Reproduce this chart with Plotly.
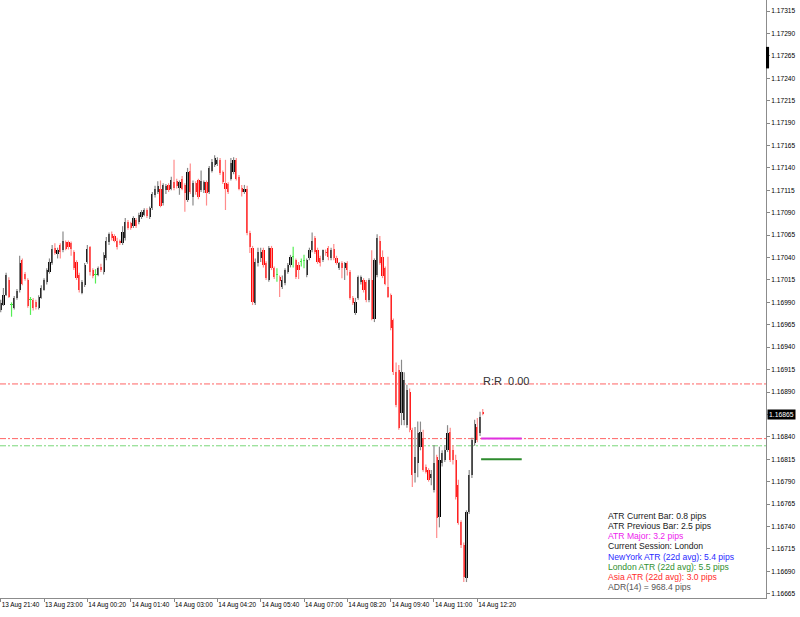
import plotly.graph_objects as go

# ---------------- data (EURUSD M5) ----------------
opens = [
    1.16981, 1.16981, 1.16987, 1.16998, 1.17015, 1.16987, 1.16984, 1.16995, 1.17004, 1.17037,
    1.17022, 1.17015, 1.16993, 1.16993, 1.16990, 1.16984, 1.16995, 1.17004, 1.17013, 1.17024,
    1.17034, 1.17051, 1.17044, 1.17054, 1.17048, 1.17057, 1.17057, 1.17056, 1.17046, 1.17035,
    1.17020, 1.17001, 1.17009, 1.17035, 1.17052, 1.17026, 1.17020, 1.17021, 1.17030, 1.17024,
    1.17039, 1.17057, 1.17066, 1.17064, 1.17059, 1.17058, 1.17056, 1.17062, 1.17080, 1.17078,
    1.17075, 1.17082, 1.17080, 1.17085, 1.17088, 1.17093, 1.17085, 1.17095, 1.17110, 1.17113,
    1.17117, 1.17101, 1.17115, 1.17121, 1.17117, 1.17124, 1.17125, 1.17118, 1.17128, 1.17121,
    1.17104, 1.17137, 1.17107, 1.17123, 1.17126, 1.17115, 1.17115, 1.17124, 1.17113, 1.17137,
    1.17143, 1.17144, 1.17149, 1.17135, 1.17123, 1.17122, 1.17128, 1.17135, 1.17149, 1.17130,
    1.17118, 1.17113, 1.17117, 1.17067, 1.17051, 1.16989, 1.17034, 1.17039, 1.17048, 1.17034,
    1.17015, 1.17051, 1.17028, 1.17020, 1.17018, 1.17007, 1.17012, 1.17024, 1.17032, 1.17041,
    1.17037, 1.17032, 1.17035, 1.17036, 1.17020, 1.17039, 1.17048, 1.17062, 1.17048, 1.17039,
    1.17037, 1.17046, 1.17051, 1.17039, 1.17049, 1.17039, 1.17028, 1.17034, 1.17028, 1.17034,
    1.17024, 1.16995, 1.16978, 1.16995, 1.17013, 1.17015, 1.17013, 1.16993, 1.17015, 1.16972,
    1.17020, 1.17059, 1.17041, 1.17028, 1.17007, 1.16998, 1.16970, 1.16912, 1.16915, 1.16867,
    1.16859, 1.16853, 1.16890, 1.16848, 1.16800, 1.16811, 1.16829, 1.16839, 1.16806, 1.16803,
    1.16794, 1.16781, 1.16817, 1.16751, 1.16811, 1.16814, 1.16825, 1.16845, 1.16825, 1.16814,
    1.16786, 1.16745, 1.16719, 1.16683, 1.16756, 1.16797, 1.16833, 1.16851, 1.16844, 1.16868,
]
highs = [
    1.16987, 1.16993, 1.17006, 1.17023, 1.17018, 1.16990, 1.16997, 1.17005, 1.17042, 1.17039,
    1.17024, 1.17017, 1.16996, 1.16995, 1.16993, 1.16998, 1.17009, 1.17017, 1.17028, 1.17039,
    1.17054, 1.17056, 1.17051, 1.17056, 1.17069, 1.17059, 1.17059, 1.17058, 1.17048, 1.17037,
    1.17023, 1.17015, 1.17034, 1.17054, 1.17053, 1.17028, 1.17027, 1.17030, 1.17033, 1.17046,
    1.17063, 1.17068, 1.17069, 1.17066, 1.17062, 1.17060, 1.17075, 1.17084, 1.17082, 1.17080,
    1.17086, 1.17084, 1.17090, 1.17093, 1.17095, 1.17095, 1.17097, 1.17113, 1.17120, 1.17125,
    1.17126, 1.17123, 1.17122, 1.17123, 1.17130, 1.17149, 1.17128, 1.17126, 1.17131, 1.17123,
    1.17140, 1.17145, 1.17126, 1.17125, 1.17128, 1.17137, 1.17126, 1.17126, 1.17142, 1.17150,
    1.17154, 1.17152, 1.17151, 1.17137, 1.17149, 1.17124, 1.17151, 1.17152, 1.17151, 1.17132,
    1.17121, 1.17121, 1.17120, 1.17070, 1.17053, 1.17039, 1.17051, 1.17051, 1.17051, 1.17036,
    1.17053, 1.17053, 1.17030, 1.17028, 1.17020, 1.17020, 1.17028, 1.17034, 1.17043, 1.17052,
    1.17039, 1.17035, 1.17039, 1.17043, 1.17039, 1.17051, 1.17068, 1.17064, 1.17051, 1.17042,
    1.17049, 1.17049, 1.17053, 1.17051, 1.17055, 1.17042, 1.17035, 1.17036, 1.17035, 1.17036,
    1.17026, 1.16997, 1.16995, 1.17020, 1.17020, 1.17017, 1.17015, 1.17017, 1.17048, 1.17039,
    1.17066, 1.17064, 1.17048, 1.17030, 1.17041, 1.17000, 1.16972, 1.16923, 1.16920, 1.16926,
    1.16912, 1.16898, 1.16894, 1.16850, 1.16851, 1.16857, 1.16857, 1.16848, 1.16809, 1.16805,
    1.16803, 1.16831, 1.16820, 1.16829, 1.16825, 1.16831, 1.16853, 1.16850, 1.16831, 1.16820,
    1.16792, 1.16747, 1.16722, 1.16758, 1.16803, 1.16839, 1.16859, 1.16861, 1.16868, 1.16871,
]
lows = [
    1.16961, 1.16979, 1.16986, 1.16997, 1.16995, 1.16974, 1.16982, 1.16993, 1.17001, 1.17009,
    1.17014, 1.16984, 1.16976, 1.16981, 1.16982, 1.16982, 1.16994, 1.17003, 1.17010, 1.17022,
    1.17032, 1.17043, 1.17039, 1.17039, 1.17046, 1.17048, 1.17049, 1.17042, 1.17026, 1.17015,
    1.17001, 1.16999, 1.17007, 1.17033, 1.17020, 1.17017, 1.17011, 1.17019, 1.17024, 1.17021,
    1.17037, 1.17054, 1.17059, 1.17057, 1.17049, 1.17054, 1.17054, 1.17059, 1.17071, 1.17071,
    1.17073, 1.17073, 1.17077, 1.17083, 1.17086, 1.17084, 1.17083, 1.17093, 1.17107, 1.17111,
    1.17096, 1.17098, 1.17111, 1.17113, 1.17115, 1.17115, 1.17117, 1.17110, 1.17115, 1.17091,
    1.17102, 1.17111, 1.17098, 1.17110, 1.17105, 1.17113, 1.17112, 1.17098, 1.17111, 1.17135,
    1.17141, 1.17142, 1.17132, 1.17122, 1.17093, 1.17111, 1.17126, 1.17133, 1.17126, 1.17115,
    1.17108, 1.17111, 1.17065, 1.17045, 1.16987, 1.16987, 1.17030, 1.17035, 1.17029, 1.17015,
    1.17013, 1.17026, 1.17016, 1.17013, 1.16996, 1.17005, 1.17009, 1.17022, 1.17029, 1.17029,
    1.17016, 1.17016, 1.17030, 1.17028, 1.17018, 1.17037, 1.17046, 1.17044, 1.17033, 1.17030,
    1.17035, 1.17042, 1.17037, 1.17037, 1.17037, 1.17032, 1.17026, 1.17017, 1.17015, 1.17020,
    1.16993, 1.16987, 1.16976, 1.16993, 1.17010, 1.17001, 1.16990, 1.16990, 1.16970, 1.16968,
    1.17018, 1.17032, 1.17017, 1.17009, 1.16995, 1.16959, 1.16909, 1.16873, 1.16848, 1.16853,
    1.16853, 1.16850, 1.16845, 1.16784, 1.16789, 1.16795, 1.16825, 1.16801, 1.16799, 1.16790,
    1.16786, 1.16778, 1.16727, 1.16739, 1.16807, 1.16812, 1.16823, 1.16812, 1.16809, 1.16770,
    1.16742, 1.16716, 1.16678, 1.16678, 1.16754, 1.16794, 1.16830, 1.16834, 1.16841, 1.16864,
]
closes = [
    1.16967, 1.16989, 1.16998, 1.17020, 1.16996, 1.16987, 1.16995, 1.17003, 1.17034, 1.17011,
    1.17016, 1.16986, 1.16993, 1.16984, 1.16985, 1.16996, 1.17006, 1.17015, 1.17026, 1.17035,
    1.17050, 1.17045, 1.17048, 1.17046, 1.17059, 1.17050, 1.17052, 1.17049, 1.17028, 1.17017,
    1.17004, 1.17013, 1.17032, 1.17050, 1.17024, 1.17019, 1.17020, 1.17028, 1.17026, 1.17043,
    1.17059, 1.17066, 1.17062, 1.17058, 1.17052, 1.17056, 1.17068, 1.17080, 1.17073, 1.17073,
    1.17084, 1.17075, 1.17087, 1.17091, 1.17093, 1.17086, 1.17095, 1.17111, 1.17117, 1.17120,
    1.17098, 1.17121, 1.17120, 1.17115, 1.17126, 1.17118, 1.17120, 1.17124, 1.17117, 1.17112,
    1.17135, 1.17113, 1.17123, 1.17113, 1.17107, 1.17125, 1.17124, 1.17112, 1.17140, 1.17147,
    1.17151, 1.17149, 1.17134, 1.17124, 1.17117, 1.17113, 1.17145, 1.17149, 1.17128, 1.17117,
    1.17113, 1.17117, 1.17067, 1.17052, 1.16990, 1.17035, 1.17046, 1.17046, 1.17032, 1.17017,
    1.17051, 1.17028, 1.17018, 1.17020, 1.17014, 1.17015, 1.17026, 1.17032, 1.17041, 1.17041,
    1.17018, 1.17026, 1.17035, 1.17036, 1.17037, 1.17048, 1.17059, 1.17046, 1.17035, 1.17034,
    1.17048, 1.17045, 1.17041, 1.17048, 1.17039, 1.17034, 1.17034, 1.17028, 1.17034, 1.17026,
    1.16995, 1.16989, 1.16990, 1.17018, 1.17018, 1.17004, 1.16993, 1.17015, 1.16972, 1.17037,
    1.17062, 1.17034, 1.17019, 1.17011, 1.16996, 1.16961, 1.16912, 1.16875, 1.16850, 1.16912,
    1.16903, 1.16892, 1.16848, 1.16797, 1.16817, 1.16844, 1.16845, 1.16803, 1.16801, 1.16792,
    1.16799, 1.16811, 1.16749, 1.16814, 1.16822, 1.16825, 1.16844, 1.16814, 1.16814, 1.16773,
    1.16744, 1.16719, 1.16684, 1.16756, 1.16797, 1.16836, 1.16854, 1.16836, 1.16862, 1.16865,
]

time_labels = ["13 Aug 21:40", "13 Aug 23:00", "14 Aug 00:20", "14 Aug 01:40",
               "14 Aug 03:00", "14 Aug 04:20", "14 Aug 05:40", "14 Aug 07:00",
               "14 Aug 08:20", "14 Aug 09:40", "14 Aug 11:00", "14 Aug 12:20"]
time_label_bars = [1, 17, 33, 49, 65, 81, 97, 113, 129, 145, 161, 177]

price_ticks = [1.16665, 1.16690, 1.16715, 1.16740, 1.16765, 1.16790, 1.16815,
               1.16840, 1.16865, 1.16890, 1.16915, 1.16940, 1.16965, 1.16990,
               1.17015, 1.17040, 1.17065, 1.17090, 1.17115, 1.17140, 1.17165,
               1.17190, 1.17215, 1.17240, 1.17265, 1.17290, 1.17315]

last_price = 1.16865
rr_level = 1.16899
red_level = 1.16838
green_level = 1.16830
magenta_level = 1.16838
green_solid_level = 1.16815
rr_text = "R:R  0.00"

info_lines = ["ATR Current Bar: 0.8 pips", "ATR Previous Bar: 2.5 pips", "ATR Major: 3.2 pips",
              "Current Session: London", "NewYork ATR (22d avg): 5.4 pips",
              "London ATR (22d avg): 5.5 pips", "Asia ATR (22d avg): 3.0 pips",
              "ADR(14) = 968.4 pips"]
info_colors = ["#1a1a1a", "#1a1a1a", "#ee22ee", "#1a1a1a", "#2a2aff",
               "#2f8f2f", "#ff2a2a", "#555555"]

# ---------------- figure ----------------
FONT = "Liberation Sans, Arial, sans-serif"
n = len(closes)
idx = list(range(n))

body_colors, base, height = [], [], []
wick_groups = {"up": ([], []), "dn": ([], []), "dj": ([], [])}
for i in idx:
    o, h, l, c = opens[i], highs[i], lows[i], closes[i]
    if c > o:
        grp, col = "up", "#000000"
    elif c < o:
        grp, col = "dn", "#ff0000"
    else:
        grp, col = "dj", "#33dd33"
    body_colors.append(col)
    base.append(min(o, c))
    height.append(max(abs(c - o), 0.000012))
    wx, wy = wick_groups[grp]
    wx += [i, i, None]
    wy += [l, h, None]

fig = go.Figure()
wick_col = {"up": "#8a8a8a", "dn": "#ff8c8c", "dj": "#55ee55"}
for g, (wx, wy) in wick_groups.items():
    fig.add_trace(go.Scatter(x=wx, y=wy, mode="lines",
                             line=dict(color=wick_col[g], width=1.2),
                             hoverinfo="skip", showlegend=False))
fig.add_trace(go.Bar(x=idx, y=height, base=base, width=0.82,
                     marker=dict(color=body_colors, line=dict(width=0)),
                     hoverinfo="skip", showlegend=False))

shapes = []
for lvl, col in [(rr_level, "rgb(255,100,100)"), (red_level, "rgb(255,100,100)"),
                 (green_level, "rgb(120,215,120)")]:
    shapes.append(dict(type="line", xref="paper", x0=0, x1=1, yref="y", y0=lvl, y1=lvl,
                       line=dict(color=col, width=1, dash="6px,2px,2px,2px"), layer="below"))
shapes.append(dict(type="line", xref="x", x0=178.4, x1=193.4, yref="y",
                   y0=magenta_level, y1=magenta_level, line=dict(color="#e030e0", width=2)))
shapes.append(dict(type="line", xref="x", x0=178.4, x1=193.4, yref="y",
                   y0=green_solid_level, y1=green_solid_level, line=dict(color="#2e8b2e", width=2)))
# black marker on price scale
shapes.append(dict(type="rect", xref="paper", x0=1.0, x1=1.004, yref="y",
                   y0=1.17251, y1=1.17275, fillcolor="#000", line=dict(width=0)))

annotations = [
    dict(xref="paper", x=1.0, xanchor="left", xshift=1, yref="y", y=last_price,
         text=f"{last_price:.5f}", showarrow=False, bgcolor="#000000",
         font=dict(color="#ffffff", size=6.8, family=FONT), borderpad=1),
    dict(xref="x", x=187.6, xanchor="center", yref="y", y=rr_level, yanchor="middle", yshift=3,
         text=rr_text, showarrow=False, font=dict(color="#333333", size=11, family=FONT)),
]
for k, (t, c) in enumerate(zip(info_lines, info_colors)):
    ypx = 515.6 + k * 10.25
    annotations.append(dict(xref="paper", x=606 / 766, xanchor="left",
                            yref="paper", y=1 - ypx / 598, yanchor="middle",
                            text=t, showarrow=False,
                            font=dict(color=c, size=8.6, family=FONT)))

# the last-price box replaces the regular scale label at that level
tick_text = ["" if abs(p - last_price) < 1e-9 else f"{p:.5f}" for p in price_ticks]

fig.update_layout(
    width=800, height=617,
    margin=dict(l=0, r=34, t=0, b=19, pad=0),
    paper_bgcolor="#ffffff", plot_bgcolor="#ffffff",
    barmode="overlay", bargap=0, showlegend=False,
    shapes=shapes, annotations=annotations,
    font=dict(family=FONT, color="#000000"),
    xaxis=dict(range=[0.74, 283.6], tickmode="array", tickvals=time_label_bars,
               ticktext=time_labels, ticks="outside", ticklen=3, tickcolor="#888888",
               ticklabelposition="outside right", tickangle=0, automargin=False,
               tickfont=dict(size=6.4, family=FONT, color="#000"),
               showline=True, linecolor="#8c8c8c", linewidth=1,
               showgrid=False, zeroline=False, fixedrange=True),
    yaxis=dict(side="right", range=[1.166602, 1.173273], tickmode="array",
               tickvals=price_ticks, ticktext=tick_text,
               ticks="outside", ticklen=3, tickcolor="#888888", automargin=False,
               tickfont=dict(size=6.6, family=FONT, color="#000"),
               showline=True, linecolor="#8c8c8c", linewidth=1,
               showgrid=False, zeroline=False, fixedrange=True),
)

fig.write_html("out.html", config={"displayModeBar": False, "staticPlot": True},
               post_script="document.body.style.margin='0';document.body.style.overflow='hidden';")
